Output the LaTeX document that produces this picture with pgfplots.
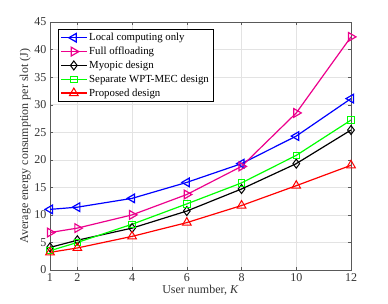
\documentclass[border=0pt]{standalone}
\usepackage{pgfplots}
\pgfplotsset{compat=1.18}
\usepackage{fontspec}
\setmainfont{Liberation Serif}
\begin{document}
\begin{tikzpicture}
\useasboundingbox (-50pt,-33pt) rectangle (338pt,270pt);
\begin{axis}[
  at={(0pt,0pt)}, anchor=south west,
  scale only axis,
  width=301pt, height=248pt,
  xmin=1, xmax=12, ymin=0, ymax=45,
  xtick={1,2,4,6,8,10,12},
  ytick={0,5,...,45},
  grid=major,
  grid style={gray!22, line width=0.5pt},
  axis line style={gray!70!black, line width=0.6pt},
  tick style={gray!70!black},
  tick align=inside,
  major tick length=3pt,
  ticklabel style={font=\fontsize{12}{14}\selectfont, text=black!80},
  /pgf/number format/assume math mode=true,
  xlabel={User number, \textit{K}},
  ylabel={Average energy consumption per slot (J)},
  label style={font=\fontsize{12}{14}\selectfont, text=black!80},
  xlabel style={yshift=3pt},
  ylabel style={yshift=-3pt},
  legend style={at={(0.027,0.972)}, anchor=north west, font=\fontsize{10.8}{12}\selectfont,
    draw=black, line width=0.6pt, row sep=0.8pt, inner sep=2pt, cells={anchor=west}},
  legend cell align=left,
  legend image code/.code={\draw[mark repeat=2,mark phase=2] plot coordinates {(0cm,0cm) (0.45cm,0cm) (0.9cm,0cm)};},
  every axis plot/.append style={line width=1.2pt, mark options={solid, line width=1pt, fill=none}},
]
\addplot[blue, mark=triangle, mark size=5pt, mark options={rotate=90}] coordinates {(1,11.0) (2,11.4) (4,13.0) (6,15.9) (8,19.3) (10,24.3) (12,31.1)};
\addlegendentry{Local computing only}
\addplot[magenta, mark=triangle, mark size=5pt, mark options={rotate=-90}] coordinates {(1,6.8) (2,7.6) (4,10.0) (6,13.7) (8,18.8) (10,28.5) (12,42.3)};
\addlegendentry{Full offloading}
\addplot[black, mark=diamond, mark size=4.5pt] coordinates {(1,4.1) (2,5.4) (4,7.6) (6,10.7) (8,14.7) (10,19.3) (12,25.4)};
\addlegendentry{Myopic design}
\addplot[green, mark=square, mark size=3.2pt] coordinates {(1,3.5) (2,5.0) (4,8.3) (6,12.0) (8,15.8) (10,20.8) (12,27.2)};
\addlegendentry{Separate WPT-MEC design}
\addplot[red, mark=triangle, mark size=5pt] coordinates {(1,3.2) (2,4.0) (4,6.1) (6,8.6) (8,11.7) (10,15.3) (12,19.0)};
\addlegendentry{Proposed design}
\end{axis}
\end{tikzpicture}
\end{document}
